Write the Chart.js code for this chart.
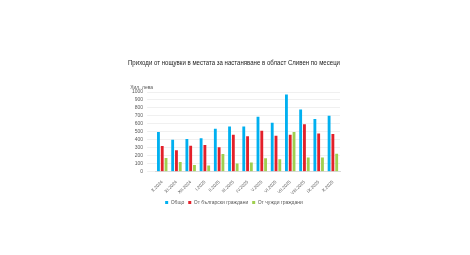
<!DOCTYPE html>
<html>
<head>
<meta charset="utf-8">
<script src="https://cdn.jsdelivr.net/npm/chart.js@4"></script>
<style>
  html, body { margin: 0; padding: 0; background: #fff; }
  #wrap { width: 470px; height: 255px; }
</style>
</head>
<body>
<div id="wrap"><canvas id="chart" width="470" height="255"></canvas></div>
<script>
// данни по месеци
const months = ['X.2024', 'XI.2024', 'XII.2024', 'I.2025', 'II.2025', 'III.2025', 'IV.2025',
                'V.2025', 'VI.2025', 'VII.2025', 'VIII.2025', 'IX.2025', 'X.2025'];
const total    = [497, 400, 409, 417, 537, 566, 566, 690, 612, 968, 781, 661, 702];
const domestic = [320, 268, 324, 332, 304, 463, 442, 512, 450, 463, 595, 479, 471];
const foreign  = [170, 120, 80, 76, 220, 99, 112, 165, 153, 496, 174, 174, 223];
const yTicks = [0, 100, 200, 300, 400, 500, 600, 700, 800, 900, 1000];

const FONT = 'Liberation Sans';

// надпис "Хил. лева" над оста
const unitLabel = {
    id: 'unitLabel',
    afterDraw(chart) {
        const y = chart.scales.y;
        const ctx = chart.ctx;
        ctx.save();
        ctx.font = '5px ' + FONT;
        ctx.fillStyle = '#595959';
        ctx.textAlign = 'right';
        ctx.textBaseline = 'bottom';
        ctx.fillText('Хил. лева', y.right - 2, y.top - 2);
        ctx.restore();
    }
};

new Chart(document.getElementById('chart'), {
    type: 'bar',
    data: {
        labels: months,
        datasets: [
            { label: 'Общо', data: total, backgroundColor: '#00b0f0' },
            { label: 'От български граждани', data: domestic, backgroundColor: '#e3202a' },
            { label: 'От чужди граждани', data: foreign, backgroundColor: '#9fcf4f' }
        ]
    },
    options: {
        responsive: false,
        animation: false,
        devicePixelRatio: 1,
        datasets: { bar: { categoryPercentage: 0.8, barPercentage: 0.75 } },
        layout: { padding: { left: 128, right: 130, top: 52, bottom: 40 } },
        plugins: {
            title: {
                display: true,
                text: 'Приходи от нощувки в местата за настаняване в област Сливен по месеци',
                font: { size: 7.5, family: FONT, weight: 'normal' },
                color: '#222',
                padding: { top: 6, bottom: 25 }
            },
            legend: {
                position: 'bottom',
                labels: {
                    boxWidth: 3, boxHeight: 3, padding: 4,
                    font: { size: 5, family: FONT },
                    color: '#595959'
                }
            },
            tooltip: { enabled: false }
        },
        scales: {
            x: {
                grid: { display: false },
                border: { color: '#d9d9d9' },
                ticks: {
                    minRotation: 45, maxRotation: 45, padding: 0,
                    font: { size: 4.5, family: FONT }, color: '#595959'
                }
            },
            y: {
                min: 0, max: 1000,
                afterBuildTicks(axis) { axis.ticks = yTicks.map(v => ({ value: v })); },
                grid: { color: '#e6e6e6', lineWidth: 0.6 },
                border: { display: false },
                ticks: {
                    autoSkip: false, padding: 4,
                    callback: v => String(v),
                    font: { size: 5, family: FONT }, color: '#595959'
                }
            }
        }
    },
    plugins: [unitLabel]
});
</script>
</body>
</html>
